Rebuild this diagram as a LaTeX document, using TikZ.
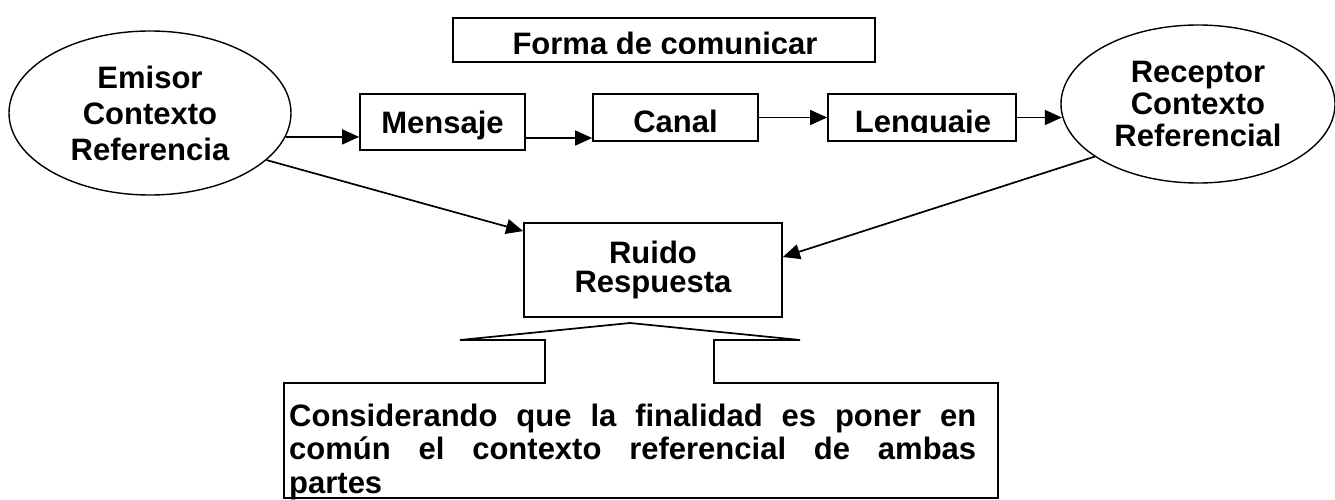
\documentclass[tikz,border=0pt]{standalone}
\usepackage{fontspec}
\newfontfamily\labfont{Liberation Sans}
\usetikzlibrary{arrows.meta,shapes.geometric,calc}
\tikzset{
  lbl/.style={font=\labfont\bfseries\fontsize{31}{34}\selectfont, inner sep=0pt},
  box/.style={draw, line width=1.8pt, rectangle, inner sep=0pt},
  oval/.style={draw, line width=1.4pt, ellipse, inner sep=0pt, align=center},
  arr/.style={line width=1.7pt, -{Triangle[length=17pt,width=15pt]}},
}
\begin{document}
\begin{tikzpicture}[x=1pt,y=-1pt]
\useasboundingbox (0,0) rectangle (1335,500);

% ellipses
\node[oval, lbl, minimum width=282pt, minimum height=164pt, font=\labfont\bfseries\fontsize{31}{36}\selectfont] (emisor) at (150,113) {Emisor\\Contexto\\Referencia};
\node[oval, lbl, minimum width=274pt, minimum height=158pt, font=\labfont\bfseries\fontsize{31}{32}\selectfont] (rec) at (1198,104) {Receptor\\Contexto\\Referencial};

% top box
\node[box, minimum width=422pt, minimum height=44pt] (forma) at (664,40) {};
\begin{scope}
  \clip (forma.north west) rectangle ([yshift=9.5pt]forma.south east);
  \node[lbl, anchor=base] (formt) at (665,55) {Forma de comunicar};
\end{scope}

% chain boxes
\node[box, minimum width=165pt, minimum height=56pt] (mens) at (442.5,122) {};
\node[lbl, anchor=base] (menst) at (442.5,133) {Mensaje};

\node[box, minimum width=165pt, minimum height=47pt] (canal) at (675.5,117.5) {};
\begin{scope}
  \clip (canal.north west) rectangle ([yshift=9.5pt]canal.south east);
  \node[lbl, anchor=base] (canalt) at (675.5,132.5) {Canal};
\end{scope}

\node[box, minimum width=188pt, minimum height=47pt] (leng) at (922,117.5) {};
\begin{scope}
  \clip (leng.north west) rectangle ([yshift=9.5pt]leng.south east);
  \node[lbl, anchor=base] (lengt) at (923,132.5) {Lenguaje};
\end{scope}

% ruido box
\node[box, lbl, align=center, minimum width=258pt, minimum height=94pt, font=\labfont\bfseries\fontsize{31}{29.5}\selectfont] (ruido) at (653,270) {Ruido\\Respuesta};

% connectors
\draw[arr] (emisor.-10) -- (emisor.-10 -| mens.west);
\draw[arr] ([yshift=-16pt]mens.east) -- ([yshift=-16pt]mens.east -| canal.west);
\draw[arr] (canal.east) -- (leng.west);
\draw[arr] (leng.east) -- (leng.east -| rec.185);
\draw[arr] (emisor.-22) -- ([yshift=-9pt]ruido.north west);
\draw[arr] (rec.207) -- ([yshift=13pt]ruido.east);

% callout
\coordinate (c1) at (545,383);
\draw[line width=1.7pt, line join=miter]
  (c1) -- (545,340) -- (460,340) -- (630,323) -- (800,340) -- (714,340)
  -- (714,383) -- (998,383) -- (998,498) -- (284,498) -- (284,383) -- cycle;
\node[lbl, anchor=north west, text width=687pt, align=justify,
      font=\labfont\bfseries\fontsize{31}{33.5}\selectfont,
      execute at begin node={\hyphenpenalty=10000\exhyphenpenalty=10000\spaceskip=0.278em plus 1em\relax}] (callt) at (289,403.5)
  {Considerando que la finalidad es poner en común el contexto referencial de ambas partes};
\end{tikzpicture}
\end{document}
